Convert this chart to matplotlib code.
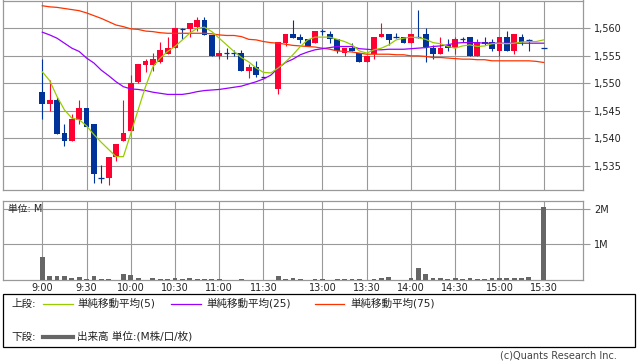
import matplotlib
matplotlib.use('Agg')
import matplotlib.pyplot as plt
from matplotlib.patches import Rectangle
from matplotlib.ticker import FuncFormatter
import numpy as np

plt.rcParams['font.family'] = ['DejaVu Sans', 'Noto Sans CJK JP']

# 5-minute bars, morning 9:00-11:30 and afternoon 12:30-15:20 + 15:30 close
def hhmm(start, n):
    return ['%d:%02d' % divmod(start + 5 * i, 60) for i in range(n)]

bar_times = hhmm(540, 31) + hhmm(750, 35) + ['15:30']
ma_times = hhmm(540, 31) + ['12:25'] + hhmm(750, 37)

opens = [1548.5, 1546.3, 1547.0, 1541.0, 1539.5, 1543.4, 1545.6, 1542.7, 1532.9, 1532.9,
         1536.6, 1539.5, 1541.4, 1550.3, 1553.4, 1553.4, 1553.9, 1555.3, 1556.4, 1559.9,
         1559.9, 1560.3, 1561.5, 1558.8, 1554.9, 1555.5, 1555.6, 1555.6, 1552.3, 1553.0,
         1551.1,
         1549.0, 1557.4, 1559.0, 1558.5, 1558.0, 1557.4, 1559.5, 1559.0, 1558.0, 1555.5,
         1556.4, 1555.5, 1553.9, 1555.3, 1558.4, 1559.0, 1558.4, 1558.4, 1557.4, 1558.4,
         1559.0, 1556.5, 1555.3, 1557.0, 1556.4, 1558.0, 1558.4, 1554.9, 1557.5, 1557.5,
         1555.9, 1558.4, 1555.9, 1558.4, 1557.9, 1556.4]
highs = [1554.4, 1550.6, 1547.6, 1542.7, 1544.4, 1547.0, 1545.6, 1542.7, 1535.1, 1536.7,
         1539.0, 1547.0, 1551.5, 1553.5, 1554.4, 1555.6, 1557.5, 1558.5, 1560.1, 1560.1,
         1561.0, 1562.1, 1562.1, 1558.8, 1556.1, 1556.4, 1556.1, 1556.1, 1553.5, 1554.0,
         1551.1,
         1557.5, 1559.0, 1561.5, 1559.0, 1558.0, 1559.5, 1559.8, 1559.6, 1558.0, 1556.4,
         1557.4, 1555.5, 1555.0, 1558.4, 1561.0, 1559.0, 1559.1, 1558.4, 1559.0, 1563.4,
         1560.1, 1557.0, 1558.4, 1558.1, 1558.4, 1558.4, 1558.4, 1558.1, 1558.4, 1558.1,
         1558.4, 1559.5, 1559.0, 1559.0, 1558.1, 1556.4]
lows = [1543.5, 1544.9, 1540.9, 1538.6, 1539.5, 1542.6, 1542.0, 1532.0, 1532.0, 1531.5,
        1536.0, 1539.5, 1541.4, 1550.0, 1552.0, 1552.3, 1553.7, 1555.3, 1556.4, 1558.0,
        1558.4, 1559.5, 1558.8, 1554.9, 1554.4, 1554.4, 1555.0, 1552.3, 1550.9, 1551.1,
        1551.1,
        1548.0, 1556.8, 1558.3, 1557.4, 1556.8, 1557.4, 1558.8, 1557.4, 1555.5, 1554.9,
        1555.9, 1553.9, 1553.9, 1554.4, 1558.4, 1557.0, 1558.2, 1557.4, 1557.4, 1558.2,
        1553.9, 1554.4, 1555.3, 1555.9, 1555.3, 1557.6, 1554.9, 1554.9, 1557.0, 1555.9,
        1554.9, 1555.9, 1555.3, 1557.0, 1555.9, 1556.4]
closes = [1546.3, 1547.0, 1540.9, 1539.5, 1543.5, 1545.6, 1542.0, 1533.5, 1532.9, 1536.7,
          1539.0, 1541.0, 1550.1, 1553.5, 1554.1, 1554.4, 1556.1, 1556.5, 1560.1, 1559.9,
          1560.9, 1561.5, 1558.8, 1554.9, 1555.6, 1555.5, 1555.6, 1552.3, 1553.0, 1551.5,
          1551.1,
          1557.5, 1559.0, 1558.3, 1557.9, 1556.8, 1559.5, 1559.5, 1558.0, 1555.9, 1556.4,
          1555.9, 1553.9, 1555.0, 1558.4, 1559.0, 1557.9, 1558.4, 1557.4, 1559.0, 1558.4,
          1556.6, 1555.3, 1556.5, 1556.4, 1558.1, 1558.0, 1554.9, 1557.5, 1557.2, 1556.2,
          1558.4, 1555.9, 1559.0, 1557.5, 1557.9, 1556.4]
volumes = [0.64, 0.11, 0.11, 0.11, 0.06, 0.08, 0.03, 0.11, 0.03, 0.03, 0.01, 0.17, 0.14,
           0.06, 0.01, 0.06, 0.03, 0.03, 0.06, 0.03, 0.06, 0.03, 0.03, 0.03, 0.03, 0.01,
           0.01, 0.03, 0.01, 0.01, 0.01,
           0.11, 0.03, 0.06, 0.03, 0.01, 0.03, 0.03, 0.01, 0.03, 0.03, 0.03, 0.03, 0.01,
           0.03, 0.06, 0.08, 0.01, 0.01, 0.06, 0.34, 0.17, 0.06, 0.06, 0.03, 0.06, 0.03,
           0.06, 0.03, 0.03, 0.06, 0.06, 0.06, 0.06, 0.06, 0.08, 2.04]

ma5 = [1552.1, 1550.5, 1547.6, 1545.2, 1543.7, 1543.4, 1542.3, 1540.7, 1539.3, 1538.0,
       1536.7, 1536.7, 1540.9, 1545.2, 1549.4, 1553.0, 1554.6, 1555.8, 1556.7, 1557.9,
       1559.1, 1560.0, 1560.2, 1559.4, 1558.2, 1557.0, 1555.8, 1554.7, 1553.9, 1552.8,
       1552.0, 1551.9,
       1552.8, 1553.9, 1555.2, 1556.7, 1557.9, 1558.4, 1558.4, 1558.4, 1558.0, 1557.6,
       1557.0, 1555.9, 1555.5, 1556.1, 1556.4, 1557.0, 1557.9, 1558.2, 1558.4, 1558.3,
       1558.0, 1557.4, 1557.2, 1556.7, 1556.4, 1556.8, 1557.0, 1556.7, 1556.8, 1557.2,
       1557.3, 1557.2, 1557.3, 1557.5, 1557.6, 1557.6, 1557.9]
ma25 = [1559.3, 1558.8, 1558.2, 1557.3, 1556.4, 1555.8, 1554.6, 1553.7, 1552.4, 1551.4,
        1550.3, 1549.4, 1549.0, 1548.9, 1548.7, 1548.4, 1548.2, 1548.0, 1548.0, 1548.0,
        1548.2, 1548.5, 1548.7, 1548.8, 1548.9, 1549.1, 1549.3, 1549.5, 1549.9, 1550.3,
        1550.8, 1551.5,
        1552.8, 1553.8, 1554.4, 1555.2, 1555.7, 1556.1, 1556.3, 1556.5, 1556.7, 1556.7,
        1556.7, 1556.3, 1556.2, 1556.1, 1556.1, 1556.2, 1556.2, 1556.2, 1556.3, 1556.4,
        1556.5, 1556.7, 1556.8, 1557.0, 1557.3, 1557.4, 1557.4, 1557.4, 1557.3, 1557.3,
        1557.3, 1557.3, 1557.3, 1557.3, 1557.3, 1557.3, 1557.3]
ma75 = [1564.1, 1563.9, 1563.8, 1563.6, 1563.4, 1563.2, 1562.8, 1562.3, 1561.8, 1561.2,
        1560.6, 1560.3, 1559.9, 1559.8, 1559.5, 1559.4, 1559.2, 1559.1, 1559.1, 1559.1,
        1559.1, 1559.1, 1559.1, 1559.0, 1558.8, 1558.7, 1558.7, 1558.5, 1558.0, 1557.9,
        1557.6, 1557.4,
        1557.3, 1557.1, 1556.9, 1556.8, 1556.7, 1556.6, 1556.4, 1556.2, 1555.9, 1555.8,
        1555.7, 1555.5, 1555.3, 1555.3, 1555.3, 1555.3, 1555.2, 1555.2, 1555.0, 1555.0,
        1554.9, 1554.7, 1554.7, 1554.6, 1554.5, 1554.4, 1554.4, 1554.3, 1554.3, 1554.1,
        1554.1, 1554.1, 1554.1, 1554.1, 1554.1, 1554.0, 1553.8]

tick_labels = ['9:00', '9:30', '10:00', '10:30', '11:00', '11:30',
               '13:00', '13:30', '14:00', '14:30', '15:00', '15:30']

# x position: one slot per 5 minutes, lunch break squeezed to 2 slots
def slot(t):
    h, m = map(int, t.split(':'))
    mins = h * 60 + m
    if mins <= 11 * 60 + 30:
        return (mins - 540) / 5.0
    return 32 + (mins - 750) / 5.0

bx = np.array([slot(t) for t in bar_times])
mx = np.array([slot(t) for t in ma_times])
tx = [slot(t) for t in tick_labels]
o = np.array(opens); c = np.array(closes)
h = np.array(highs); l = np.array(lows)

UP = '#ff0033'
DOWN = '#003399'
GRID = '#999999'
W, H = 638, 362

fig = plt.figure(figsize=(W / 100, H / 100), dpi=100, facecolor='white')

ax = fig.add_axes([3.3 / W, 1 - 190.3 / H, 579.4 / W, 189.8 / H])
axv = fig.add_axes([3.3 / W, 1 - 280 / H, 579.4 / W, 79 / H])

for a in (ax, axv):
    a.set_xlim(-5.29, 73.3)
    a.set_xticks(tx)
    a.grid(True, color=GRID, linewidth=0.8)
    a.set_axisbelow(True)
    for s in a.spines.values():
        s.set_color(GRID)
        s.set_linewidth(0.9)
    a.yaxis.tick_right()
    a.tick_params(axis='y', length=5, color=GRID, width=0.8, labelsize=7,
                  pad=3, labelcolor='#222222')
    a.tick_params(axis='x', length=0, labelsize=7, pad=2, labelcolor='#222222')

ax.set_ylim(1530.59, 1565.05)
ax.set_yticks([1535, 1540, 1545, 1550, 1555, 1560])
ax.yaxis.set_major_formatter(FuncFormatter(lambda v, p: '{:,.0f}'.format(v)))
ax.set_xticklabels([])

# candles
col = np.where(c > o, UP, DOWN)
ax.vlines(bx, l, h, colors=col, linewidth=0.8, zorder=3)
body = np.abs(c - o)
flat = body < 0.05
ax.bar(bx[~flat], body[~flat], bottom=np.minimum(o, c)[~flat], width=0.78,
       color=col[~flat], linewidth=0, zorder=4)
ax.hlines(c[flat], bx[flat] - 0.39, bx[flat] + 0.39, colors=DOWN, linewidth=0.9, zorder=4)

ax.plot(mx, ma75, color='#ff3300', linewidth=0.9, zorder=5)
ax.plot(mx, ma25, color='#9900ff', linewidth=0.9, zorder=5)
ax.plot(mx, ma5, color='#99cc00', linewidth=0.9, zorder=6)

# volume
axv.bar(bx, volumes, width=0.65, color='#666666', linewidth=0, zorder=3)
axv.set_ylim(0, 2.21)
axv.set_yticks([1, 2])
axv.set_yticklabels(['1M', '2M'])
axv.set_xticklabels(tick_labels)

fig.text(8 / W, 1 - 209 / H, '単位: M', fontsize=7, va='center', ha='left',
         color='#222222')

# legend box
lg = fig.add_axes([0, 0, 1, 1])
lg.set_xlim(0, W)
lg.set_ylim(H, 0)
lg.set_axis_off()
lg.add_patch(Rectangle((3, 293.5), 632, 53, fill=False, edgecolor='black', linewidth=0.9))
ty1, ty2 = 303.5, 336.5
fs = 7.6
lg.text(11, ty1, '上段:', fontsize=fs, va='center', color='#222222')
lg.text(11, ty2, '下段:', fontsize=fs, va='center', color='#222222')
legend_items = [(43, 73, 77, '#99cc00', '単純移動平均(5)'),
                (171, 201, 206, '#9900ff', '単純移動平均(25)'),
                (315, 344, 350, '#ff3300', '単純移動平均(75)')]
for x0, x1, xt, cc, txt in legend_items:
    lg.plot([x0, x1], [ty1, ty1], color=cc, linewidth=0.9)
    lg.text(xt, ty1, txt, fontsize=fs, va='center', color='#222222')
lg.plot([43, 73], [ty2, ty2], color='#666666', linewidth=3)
lg.text(77, ty2, '出来高 単位:(M株/口/枚)', fontsize=fs, va='center', color='#222222')
lg.text(617, 356, '(c)Quants Research Inc.', fontsize=7, va='center', ha='right',
        color='#444444')

fig.savefig('out.png', dpi=100, facecolor='white')
